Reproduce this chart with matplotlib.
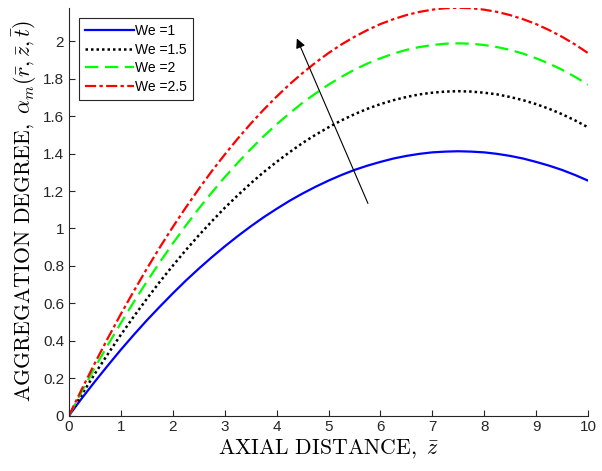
import matplotlib
matplotlib.use("Agg")
import matplotlib.pyplot as plt

# axial distance samples
z = [0, 0.25, 0.5, 0.75, 1, 1.25, 1.5, 1.75, 2, 2.25, 2.5, 2.75, 3, 3.25, 3.5, 3.75,
     4, 4.25, 4.5, 4.75, 5, 5.25, 5.5, 5.75, 6, 6.25, 6.5, 6.75, 7, 7.25, 7.5, 7.75,
     8, 8.25, 8.5, 8.75, 9, 9.25, 9.5, 9.75, 10]

# aggregation degree for each We
we_1 = [0, .093, .182, .268, .352, .432, .509, .582, .653, .721, .785, .846, .904, .959,
        1.011, 1.060, 1.105, 1.148, 1.187, 1.223, 1.256, 1.286, 1.313, 1.336, 1.356,
        1.374, 1.388, 1.399, 1.407, 1.411, 1.413, 1.411, 1.407, 1.399, 1.388, 1.374,
        1.356, 1.336, 1.313, 1.286, 1.256]
we_15 = [0, .114, .224, .329, .432, .530, .624, .715, .801, .884, .963, 1.038, 1.110,
         1.177, 1.241, 1.301, 1.356, 1.408, 1.457, 1.501, 1.541, 1.578, 1.611, 1.640,
         1.665, 1.686, 1.703, 1.717, 1.726, 1.732, 1.734, 1.732, 1.726, 1.717, 1.703,
         1.686, 1.665, 1.640, 1.611, 1.578, 1.541]
we_2 = [0, .130, .257, .378, .495, .608, .716, .820, .920, 1.015, 1.106, 1.192, 1.274,
        1.351, 1.424, 1.493, 1.557, 1.616, 1.672, 1.722, 1.769, 1.811, 1.849, 1.882,
        1.910, 1.935, 1.955, 1.970, 1.981, 1.988, 1.990, 1.988, 1.981, 1.970, 1.955,
        1.935, 1.910, 1.882, 1.849, 1.811, 1.769]
we_25 = [0, .143, .281, .414, .543, .666, .785, .899, 1.008, 1.112, 1.211, 1.306, 1.395,
         1.480, 1.560, 1.635, 1.705, 1.771, 1.831, 1.887, 1.938, 1.984, 2.025, 2.061,
         2.093, 2.119, 2.141, 2.158, 2.170, 2.178, 2.180, 2.178, 2.170, 2.158, 2.141,
         2.119, 2.093, 2.061, 2.025, 1.984, 1.938]

labels = ["We =1", "We =1.5", "We =2", "We =2.5"]

plt.rcParams["font.family"] = ["Liberation Sans", "DejaVu Sans"]
plt.rcParams["mathtext.fontset"] = "cm"

fig = plt.figure(figsize=(6.02, 4.71), dpi=100)
ax = fig.add_axes([69 / 602, 55.5 / 471, 519 / 602, 407.7 / 471])

ax.plot(z, we_1, color="#0000ff", lw=1.6, ls="-", label=labels[0])
ax.plot(z, we_15, color="black", lw=1.8, ls=(0, (1, 1.2)), label=labels[1])
ax.plot(z, we_2, color="#00ff00", lw=1.6, ls=(0, (6, 3)), label=labels[2])
ax.plot(z, we_25, color="#ff0000", lw=1.6, ls=(0, (5, 1.5, 1.5, 1.5)), label=labels[3])

# arrow showing increasing We
ax.annotate("", xy=(4.39, 2.016), xytext=(5.76, 1.134),
            arrowprops=dict(arrowstyle="-|>", color="black", lw=0.8,
                            mutation_scale=14, shrinkA=0, shrinkB=0))

ax.set_xlim(0, 10)
ax.set_ylim(0, 2.18)
ax.set_xticks(range(0, 11))
ax.set_yticks([0, 0.2, 0.4, 0.6, 0.8, 1, 1.2, 1.4, 1.6, 1.8, 2])
ax.set_yticklabels(["0", "0.2", "0.4", "0.6", "0.8", "1", "1.2", "1.4", "1.6", "1.8", "2"])
ax.tick_params(direction="in", labelsize=11, length=4, width=0.8, colors="#262626")
ax.spines["top"].set_visible(False)
ax.spines["right"].set_visible(False)
for s in ("left", "bottom"):
    ax.spines[s].set_color("#262626")
    ax.spines[s].set_linewidth(0.8)

ax.set_xlabel(r"$\mathrm{AXIAL\ DISTANCE,}\ \bar{z}$", fontsize=15.7, labelpad=2)
ax.set_ylabel(r"$\mathrm{AGGREGATION\ DEGREE,}\ \alpha_m(\bar{r},\bar{z},\bar{t})$",
              fontsize=15.7, labelpad=3)

leg = ax.legend(loc="upper left", bbox_to_anchor=(10 / 519, 1 - 10 / 407.7), fontsize=10,
                handlelength=3.5, handletextpad=0.1, borderpad=0.45, labelspacing=0.33,
                borderaxespad=0, fancybox=False, framealpha=1, edgecolor="#262626")
leg.get_frame().set_linewidth(0.8)

fig.savefig("out.png", dpi=100)
